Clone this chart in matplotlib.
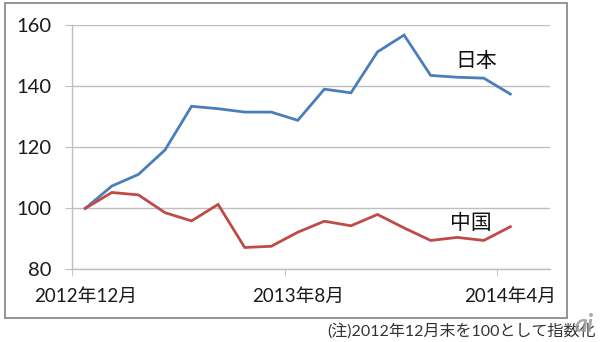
import numpy as np
import matplotlib
matplotlib.use("Agg")
from matplotlib import pyplot as plt
from matplotlib.patches import Rectangle

plt.rcParams['font.family'] = ['Lato', 'Noto Sans CJK JP', 'DejaVu Sans']

# monthly index, 2012-12 = 100
japan = [100, 107.3, 111.1, 119.1, 133.4, 132.6, 131.5, 131.5, 128.8,
         139.0, 137.8, 151.2, 156.7, 143.5, 142.9, 142.6, 137.4]
china = [100, 105.2, 104.4, 98.6, 95.9, 101.3, 87.2, 87.6, 92.2,
         95.8, 94.3, 98.0, 93.6, 89.5, 90.5, 89.5, 94.0]
tick_pos = [0, 8, 16]
tick_labels = ["2012年12月", "2013年8月", "2014年4月"]
yticks = [80, 100, 120, 140, 160]

blue = "#4A7EBB"
red = "#BE4B48"
grid_c = "#BFBFBF"

fig = plt.figure(figsize=(6, 3.42), dpi=100)
ax = fig.add_axes([0.12, 0.212, 0.797, 0.715])

x = np.arange(len(japan))
ax.plot(x, japan, color=blue, lw=2.0, solid_joinstyle="miter")
ax.plot(x, china, color=red, lw=2.0, solid_joinstyle="miter")

ax.set_xlim(-0.5, 17.5)
ax.set_ylim(80, 160)
ax.set_yticks(yticks)
ax.set_yticklabels([str(v) for v in yticks], fontsize=14.5, color="#1a1a1a")
ax.tick_params(axis="y", length=5, color=grid_c, pad=10)

ax.set_xticks(tick_pos)
ax.set_xticklabels(tick_labels, fontsize=13.5, color="#1a1a1a")
ax.set_xticks([-0.5, 7.5, 15.5], minor=True)
ax.tick_params(axis="x", which="major", length=0, pad=13)
ax.tick_params(axis="x", which="minor", length=5, color=grid_c)

ax.grid(axis="y", color=grid_c, lw=1)
ax.set_axisbelow(True)
for s in ["top", "right"]:
    ax.spines[s].set_visible(False)
for s in ["left", "bottom"]:
    ax.spines[s].set_color(grid_c)
    ax.spines[s].set_linewidth(1)

ax.text(14.7, 148.1, "日本", fontsize=15, ha="center", va="center", color="#111111")
ax.text(14.5, 95.3, "中国", fontsize=15, ha="center", va="center", color="#111111")

fig.add_artist(Rectangle((5 / 600, 1 - 318 / 342), 562 / 600, 315 / 342,
                         transform=fig.transFigure, fill=False,
                         ec="#8C8C8C", lw=1.3))

fig.text(0.993, 0.032, "(注)2012年12月末を100として指数化", fontsize=11.5,
         ha="right", va="center", color="#333333")
# watermark logo, sits over the end of the note as in the source image
fig.text(0.99, 0.05, "ai", fontsize=18, fontweight="bold", style="italic",
         ha="right", va="center", color="#9a9a9a", alpha=0.85)

plt.savefig("out.png", dpi=100)
